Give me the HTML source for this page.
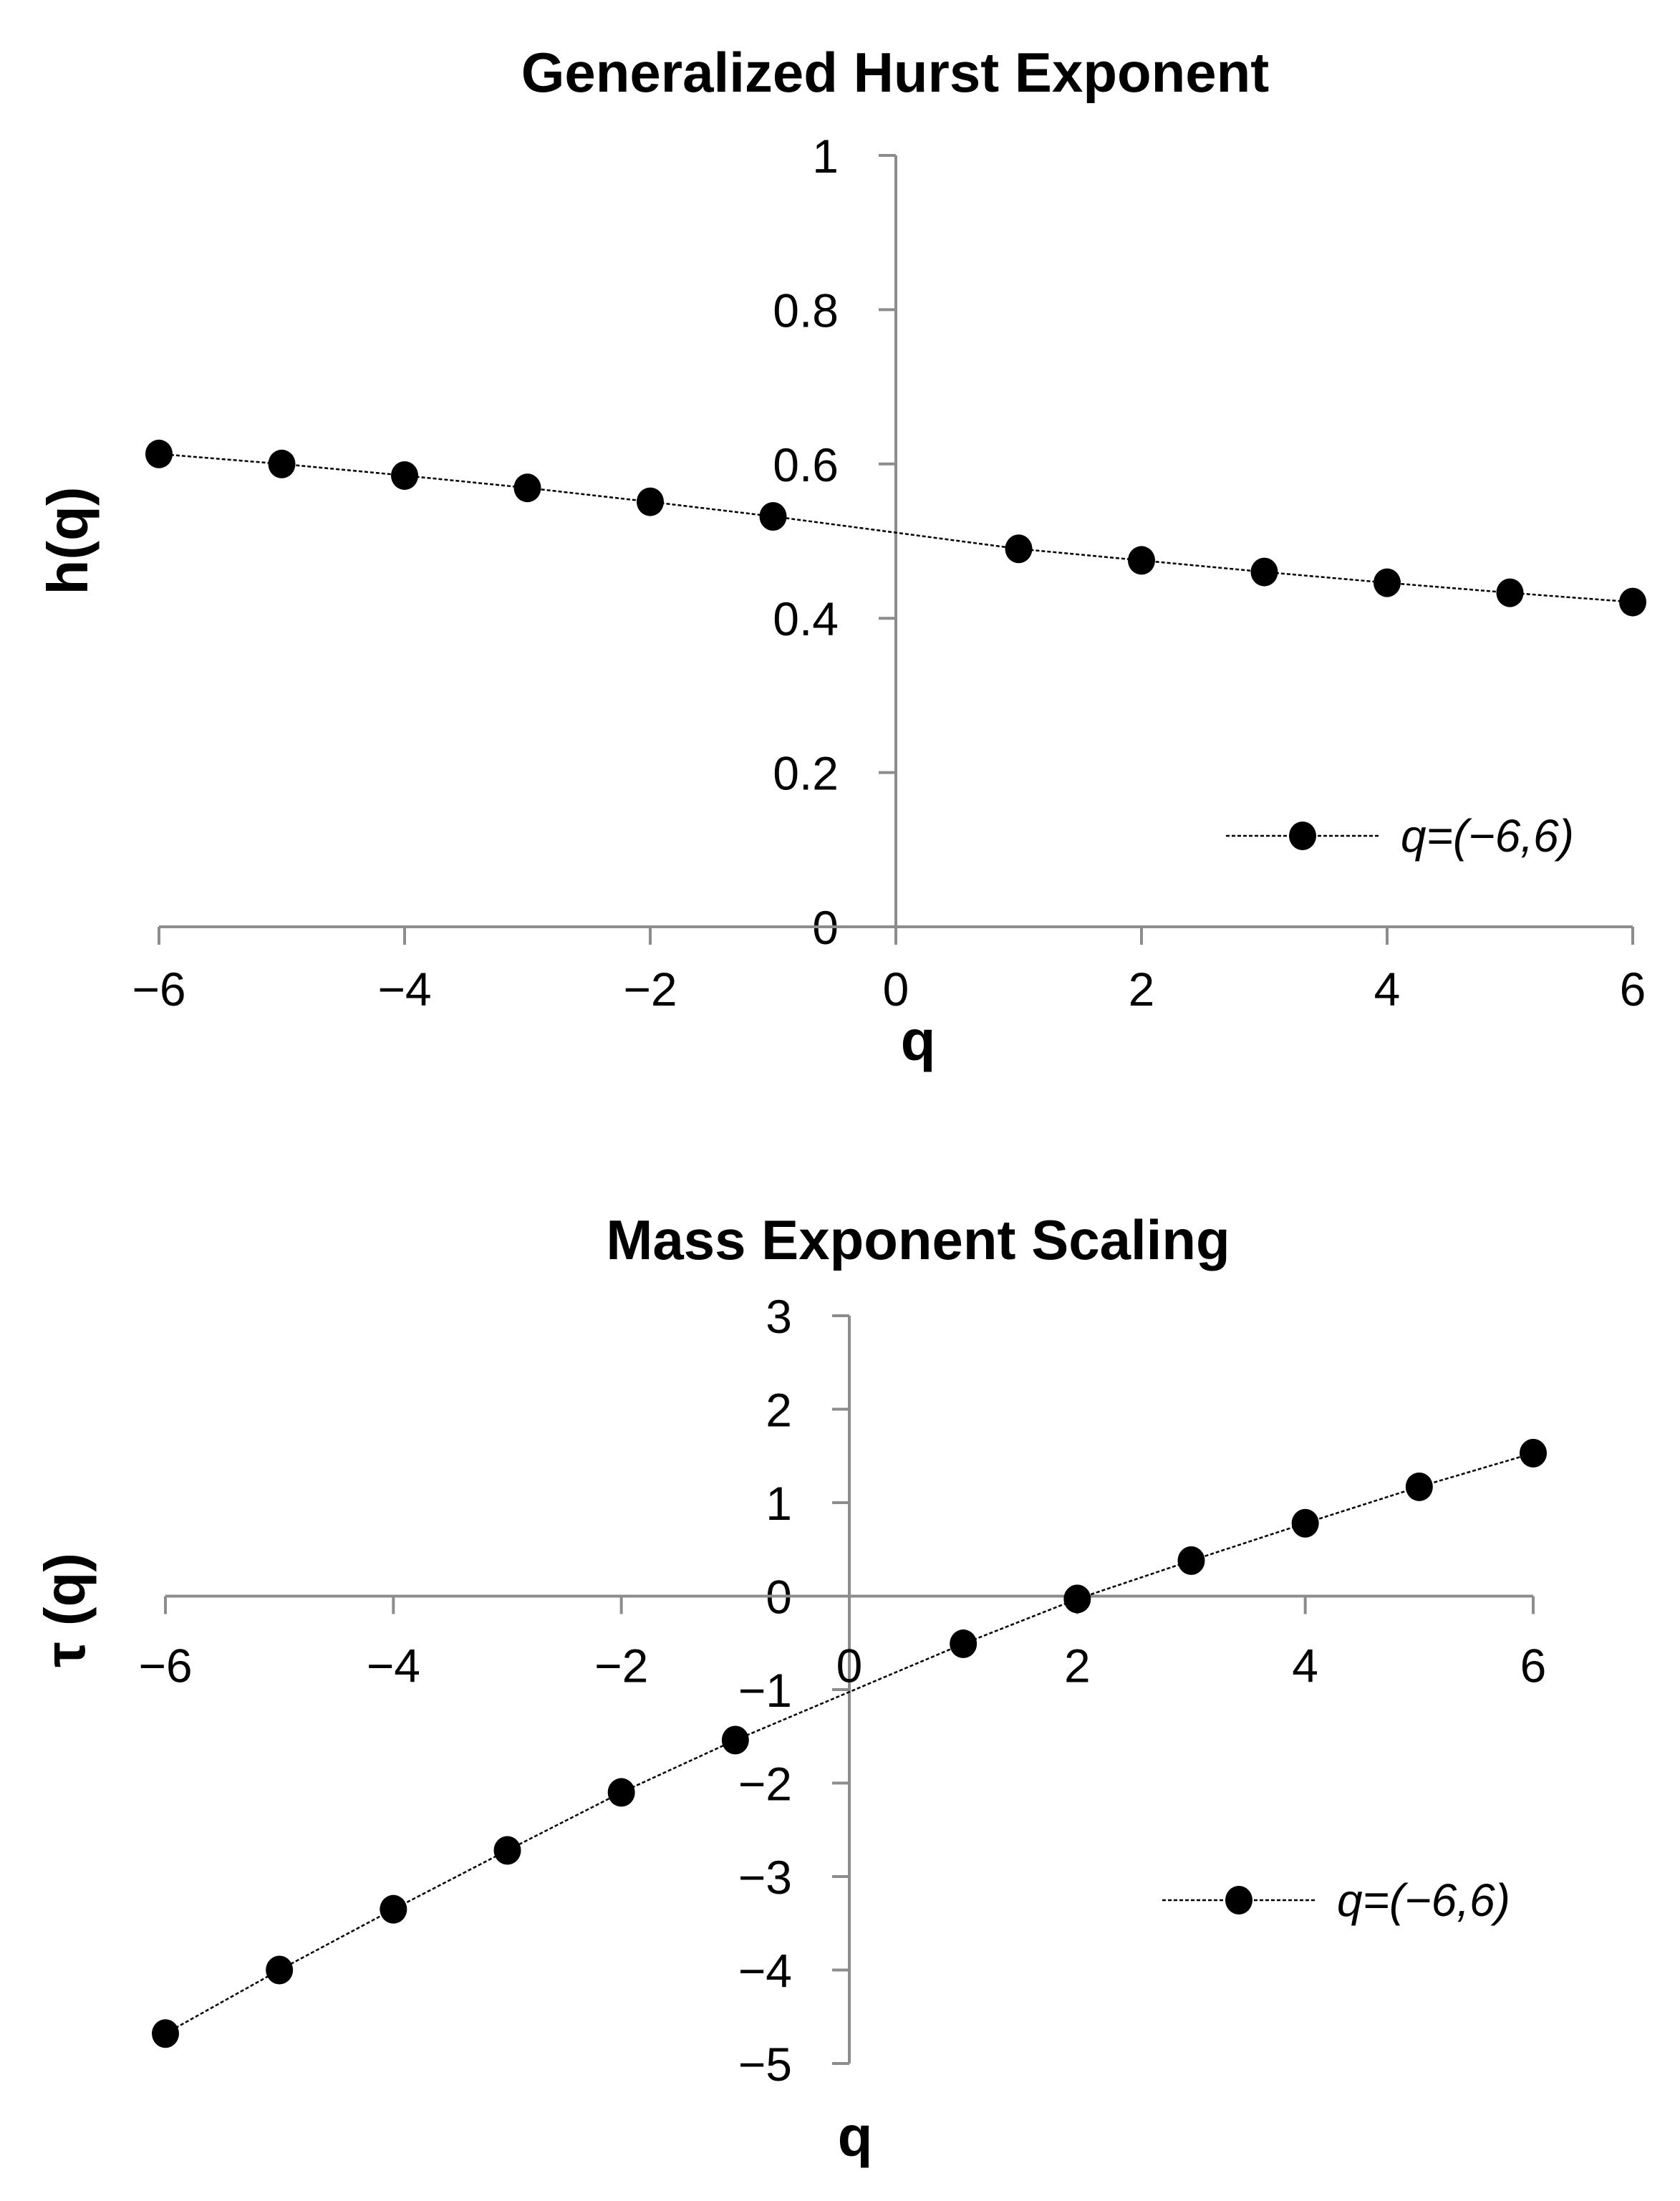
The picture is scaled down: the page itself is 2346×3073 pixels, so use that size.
<!DOCTYPE html>
<html><head><meta charset="utf-8"><style>
html,body{margin:0;padding:0;background:#fff;}
svg{display:block;font-family:"Liberation Sans",sans-serif;}
</style></head><body>
<svg id="chart" width="2346" height="3073" viewBox="0 0 2346 3073" xmlns="http://www.w3.org/2000/svg"></svg>
<script>
const qValues = [-6,-5,-4,-3,-2,-1,1,2,3,4,5,6];
const hValues = [0.613,0.600,0.585,0.569,0.551,0.532,0.490,0.475,0.460,0.446,0.433,0.421];
const tauValues = [-4.68,-4.00,-3.35,-2.72,-2.10,-1.54,-0.51,-0.03,0.38,0.78,1.17,1.53];
const hTicks = [0,0.2,0.4,0.6,0.8,1];
const hTickLabels = ["0","0.2","0.4","0.6","0.8","1"];
const tauTicks = [-5,-4,-3,-2,-1,0,1,2,3];
const tauTickLabels = ["\u22125","\u22124","\u22123","\u22122","\u22121","0","1","2","3"];
const xTicks = [-6,-4,-2,0,2,4,6];
const xTickLabelVals = [-6,-4,-2,0,2,4,6];

const NS="http://www.w3.org/2000/svg";
const svg=document.getElementById('chart');
function mk(tag,attrs,parent,text){const e=document.createElementNS(NS,tag);for(const k in attrs)e.setAttribute(k,attrs[k]);if(text!==undefined)e.textContent=text;(parent||svg).appendChild(e);return e;}
function fmt(v){return v<0?"\u2212"+Math.abs(v):String(v);}

function drawChart(cfg){
  const g=mk('g',{});
  
  
  const xs=v=>cfg.x0+(v-(-6))/12*(cfg.x1-cfg.x0);
  const ys=v=>cfg.yBase-(v-cfg.yMin)/(cfg.yMax-cfg.yMin)*(cfg.yBase-cfg.yTop);
  const axisX=xs(0), axisY=ys(0);
  const t=mk('text',{x:cfg.titleX,y:cfg.titleY,'text-anchor':'middle','font-size':78,'font-weight':'bold'},g,cfg.title);
  
  
  const ya=mk('line',{x1:axisX,y1:ys(cfg.yMin),x2:axisX,y2:ys(cfg.yMax),stroke:'#8c8c8c','stroke-width':4},g);
  
  
  cfg.yTicks.forEach((v,i)=>{
    mk('line',{x1:axisX-24,y1:ys(v),x2:axisX,y2:ys(v),stroke:'#8c8c8c','stroke-width':4},g);
    const tl=mk('text',{x:axisX-80,y:ys(v)+24,'text-anchor':'end','font-size':66},g,cfg.yTickLabels[i]);
    
    
  });
  const xa=mk('line',{x1:xs(-6),y1:axisY,x2:xs(6),y2:axisY,stroke:'#8c8c8c','stroke-width':4},g);
  
  
  xTicks.forEach(v=>{mk('line',{x1:xs(v),y1:axisY,x2:xs(v),y2:axisY+25,stroke:'#8c8c8c','stroke-width':4},g);});
  xTickLabelVals.forEach(v=>{
    const tl=mk('text',{x:xs(v),y:axisY+cfg.xLabelDy,'text-anchor':'middle','font-size':66},g,fmt(v));
    
    
  });
  const xt=mk('text',{x:cfg.xTitleX,y:cfg.xTitleY,'text-anchor':'middle','font-size':80,'font-weight':'bold'},g,'q');
  
  
  const yt=mk('text',{x:cfg.yTitleX,y:cfg.yTitleY,'text-anchor':'middle','font-size':80,'font-weight':'bold',transform:`rotate(-90 ${cfg.yTitleX} ${cfg.yTitleY})`},g,cfg.yTitle);
  
  
  const pts=qValues.map((q,i)=>xs(q)+','+ys(cfg.values[i])).join(' ');
  const pl=mk('polyline',{points:pts,fill:'none',stroke:'#000','stroke-width':2.5,'stroke-dasharray':'5 3'},g);
  
  
  qValues.forEach((q,i)=>{
    const c=mk('ellipse',{cx:xs(q),cy:ys(cfg.values[i]),rx:19,ry:20,fill:'#000'},g);
    
    
  });
  const lg=mk('g',{},g);
  
  
  mk('line',{x1:cfg.legX,y1:cfg.legY,x2:cfg.legX+214,y2:cfg.legY,stroke:'#000','stroke-width':2.5,'stroke-dasharray':'5 3'},lg);
  mk('ellipse',{cx:cfg.legX+107,cy:cfg.legY,rx:19,ry:20,fill:'#000'},lg);
  mk('text',{x:cfg.legX+244,y:cfg.legY+22,'font-size':64,'font-style':'italic'},lg,'q=(\u22126,6)');
}

drawChart({name:'hurst-chart',title:'Generalized Hurst Exponent',titleX:1250,titleY:128,
  x0:222,x1:2280,yTop:217,yBase:1294,yMin:0,yMax:1,values:hValues,
  yTicks:hTicks,yTickLabels:hTickLabels,xLabelDy:110,
  xTitleX:1282,xTitleY:1480,yTitleX:122,yTitleY:755,yTitle:'h(q)',
  legX:1712,legY:1167});
drawChart({name:'mass-exponent-chart',title:'Mass Exponent Scaling',titleX:1282,titleY:1758,
  x0:231,x1:2141,yTop:1837,yBase:2881,yMin:-5,yMax:3,values:tauValues,
  yTicks:tauTicks,yTickLabels:tauTickLabels,xLabelDy:120,
  xTitleX:1194,xTitleY:3010,yTitleX:118,yTitleY:2248,yTitle:'\u03c4 (q)',
  legX:1623,legY:2653});
</script>
</body></html>
